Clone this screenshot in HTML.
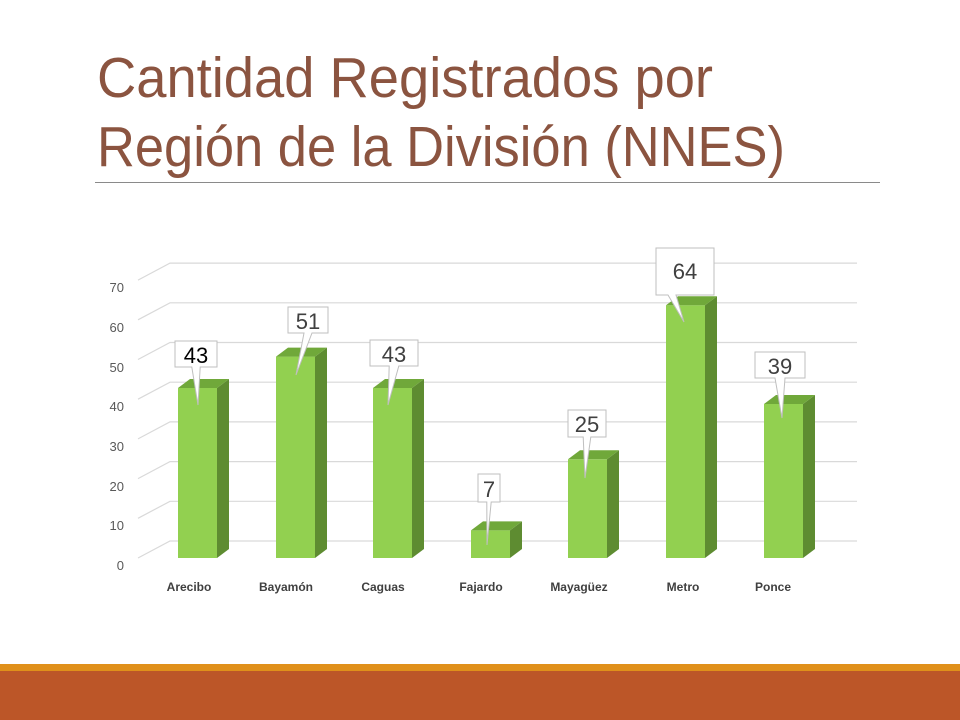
<html><head><style>body{margin:0;width:960px;height:720px;background:#fff;overflow:hidden;font-family:"Liberation Sans",sans-serif}</style></head><body>
<svg width="960" height="720" xmlns="http://www.w3.org/2000/svg" style="position:absolute;left:0;top:0">
<text x="97" y="97" font-size="57" fill="#8B5440" textLength="616" lengthAdjust="spacingAndGlyphs">Cantidad Registrados por</text>
<text x="97" y="166" font-size="57" fill="#8B5440" textLength="688" lengthAdjust="spacingAndGlyphs">Región de la División (NNES)</text>
<line x1="95" y1="182.5" x2="880" y2="182.5" stroke="#8a8a8a" stroke-width="1"/>
<g stroke="#d9d9d9" stroke-width="1.2" fill="none">
<path d="M138 558 L170 541 H857"/><path d="M138 518.3 L170 501.3 H857"/><path d="M138 478.6 L170 461.6 H857"/><path d="M138 438.9 L170 421.9 H857"/><path d="M138 399.2 L170 382.2 H857"/><path d="M138 359.5 L170 342.5 H857"/><path d="M138 319.8 L170 302.8 H857"/><path d="M138 280.1 L170 263.1 H857"/>
</g>
<g font-size="13" fill="#595959" text-anchor="end">
<text x="124" y="570">0</text><text x="124" y="530">10</text><text x="124" y="491">20</text><text x="124" y="451">30</text><text x="124" y="411">40</text><text x="124" y="372">50</text><text x="124" y="332">60</text><text x="124" y="292">70</text>
</g>
<g>
<rect x="178" y="388" width="39" height="170" fill="#92D050"/>
<polygon points="217,388 229,379 229,549 217,558" fill="#5E8C31"/>
<polygon points="178,388 190,379 229,379 217,388" fill="#70A83A"/>
<rect x="276" y="356.6" width="39" height="201.4" fill="#92D050"/>
<polygon points="315,356.6 327,347.6 327,549 315,558" fill="#5E8C31"/>
<polygon points="276,356.6 288,347.6 327,347.6 315,356.6" fill="#70A83A"/>
<rect x="373" y="388" width="39" height="170" fill="#92D050"/>
<polygon points="412,388 424,379 424,549 412,558" fill="#5E8C31"/>
<polygon points="373,388 385,379 424,379 412,388" fill="#70A83A"/>
<rect x="471" y="530.4" width="39" height="27.6" fill="#92D050"/>
<polygon points="510,530.4 522,521.4 522,549 510,558" fill="#5E8C31"/>
<polygon points="471,530.4 483,521.4 522,521.4 510,530.4" fill="#70A83A"/>
<rect x="568" y="459.3" width="39" height="98.7" fill="#92D050"/>
<polygon points="607,459.3 619,450.3 619,549 607,558" fill="#5E8C31"/>
<polygon points="568,459.3 580,450.3 619,450.3 607,459.3" fill="#70A83A"/>
<rect x="666" y="305.2" width="39" height="252.8" fill="#92D050"/>
<polygon points="705,305.2 717,296.2 717,549 705,558" fill="#5E8C31"/>
<polygon points="666,305.2 678,296.2 717,296.2 705,305.2" fill="#70A83A"/>
<rect x="764" y="404" width="39" height="154" fill="#92D050"/>
<polygon points="803,404 815,395 815,549 803,558" fill="#5E8C31"/>
<polygon points="764,404 776,395 815,395 803,404" fill="#70A83A"/>
</g>
<g fill="#fff" stroke="#bfbfbf" stroke-width="1">
<path d="M175 341 H217 V367 H200.2 L198 405 L191.8 367 H175 Z"/>
<path d="M288 307 H328 V333 H312 L296 375 L304 333 H288 Z"/>
<path d="M370 340 H418 V366 H398.8 L388 405 L389.2 366 H370 Z"/>
<path d="M478 474 H500 V502 H491.2 L487 545 L486.8 502 H478 Z"/>
<path d="M568 410 H606 V437 H590.8 L585 478 L583.2 437 H568 Z"/>
<path d="M656 248 H714 V295 H676 L684 322 L668 295 H656 Z"/>
<path d="M755 352 H805 V378 H785 L782 418 L775 378 H755 Z"/>
</g>
<g font-size="22" text-anchor="middle" fill="#404040">
<text x="196" y="363" fill="#000">43</text>
<text x="308" y="329">51</text>
<text x="394" y="362">43</text>
<text x="489" y="497">7</text>
<text x="587" y="432">25</text>
<text x="685" y="279">64</text>
<text x="780" y="374">39</text>
</g>
<g font-size="12" font-weight="bold" fill="#404040" text-anchor="middle">
<text x="189" y="591">Arecibo</text><text x="286" y="591">Bayamón</text><text x="383" y="591">Caguas</text><text x="481" y="591">Fajardo</text><text x="579" y="591">Mayagüez</text><text x="683" y="591">Metro</text><text x="773" y="591">Ponce</text>
</g>
<rect x="0" y="664" width="960" height="7" fill="#E0901A"/>
<rect x="0" y="671" width="960" height="49" fill="#BC5628"/>
</svg>
</body></html>
